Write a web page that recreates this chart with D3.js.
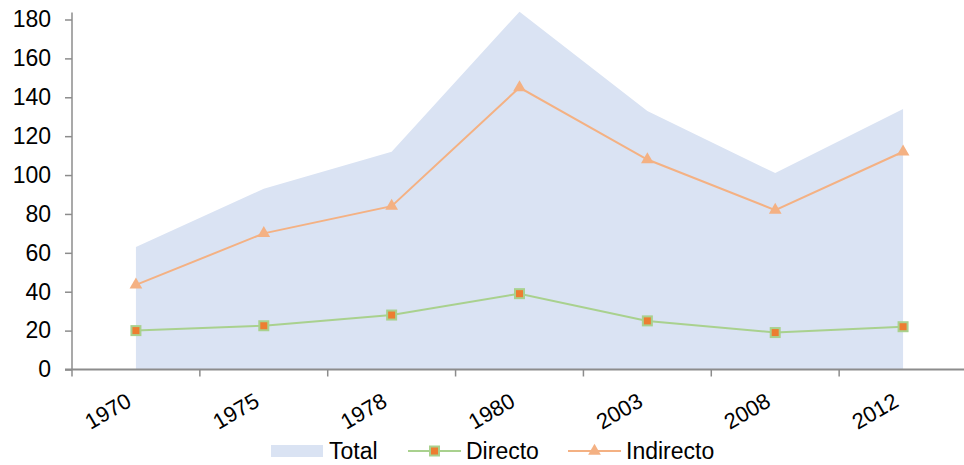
<!DOCTYPE html>
<html><head><meta charset="utf-8">
<script src="https://cdn.jsdelivr.net/npm/d3@7"></script>
<style>body{margin:0;background:#fff}svg{display:block}text{font-family:"Liberation Sans",Arial,sans-serif;fill:#000}</style>
</head><body><svg id="c" width="964" height="465"></svg>
<script>
const years = ["1970","1975","1978","1980","2003","2008","2012"];
const total = [63, 93, 112, 184, 133, 101, 134];
const directo = [20, 22.5, 28, 39, 25, 19, 22];
const indirecto = [43.5, 70, 84, 145, 108, 82, 112];
const yTicks = [0,20,40,60,80,100,120,140,160,180];

(function(){
const svg = d3.select("#c");
const mLeft = 72, mRight = 967, mTop = 19.5, mBottom = 369.5;
const x = d3.scaleBand().domain(years).range([mLeft, mRight]);
const y = d3.scaleLinear().domain([0,180]).range([mBottom, mTop]);
const cx = d => x(d) + x.bandwidth()/2;

const areaData = years.map((yr,i)=>({yr, v: total[i]}));
svg.append("path").datum(areaData)
  .attr("fill","#dae3f3")
  .attr("d", d3.area().x(d=>cx(d.yr)).y0(y(0)).y1(d=>y(d.v)));

// axes
const axisColor = "#8c8c8c";
const gy = svg.append("g").attr("transform",`translate(${mLeft},0)`)
  .call(d3.axisLeft(y).tickValues(yTicks).tickSize(7).tickPadding(14));
gy.select(".domain").attr("stroke",axisColor).attr("stroke-width",1.5).attr("d",`M-0,${mTop-7}V${mBottom}`);
gy.selectAll(".tick line").attr("stroke",axisColor).attr("stroke-width",1.5);
gy.selectAll(".tick text").attr("font-size",23).attr("font-family","Liberation Sans, Arial, sans-serif").attr("fill","#000");

const gx = svg.append("g").attr("transform",`translate(0,${mBottom})`)
  .call(d3.axisBottom(x).tickSize(0).tickFormat(""));
gx.select(".domain").attr("stroke",axisColor).attr("stroke-width",2).attr("d",`M${mLeft-7},0H${mRight}`);
const bounds = years.map(d=>x(d)).concat([mRight]);
svg.append("g").selectAll("line").data(bounds).join("line")
  .attr("x1",d=>d).attr("x2",d=>d).attr("y1",mBottom).attr("y2",mBottom+7)
  .attr("stroke",axisColor).attr("stroke-width",1.5);
svg.append("g").selectAll("text").data(years).join("text")
  .attr("transform",d=>`translate(${cx(d)-3},${mBottom+36}) rotate(-30)`)
  .attr("text-anchor","end").attr("font-size",22).text(d=>d);

// lines
const line = d3.line().x(d=>cx(d.yr)).y(d=>y(d.v));
const dirData = years.map((yr,i)=>({yr, v: directo[i]}));
const indData = years.map((yr,i)=>({yr, v: indirecto[i]}));
svg.append("path").datum(indData).attr("fill","none").attr("stroke","#f4b183").attr("stroke-width",2).attr("d",line);
svg.append("path").datum(dirData).attr("fill","none").attr("stroke","#a9d18e").attr("stroke-width",2).attr("d",line);

const tri = d3.symbol().type(d3.symbolTriangle).size(70);
svg.append("g").selectAll("path").data(indData).join("path")
  .attr("transform",d=>`translate(${cx(d.yr)},${y(d.v)})`).attr("d",tri).attr("fill","#f4b183");
svg.append("g").selectAll("rect").data(dirData).join("rect")
  .attr("x",d=>cx(d.yr)-4.5).attr("y",d=>y(d.v)-4.5).attr("width",9).attr("height",9)
  .attr("fill","#ed7d31").attr("stroke","#a9d18e").attr("stroke-width",2);

// legend
const lg = svg.append("g");
const ly = 451;
lg.append("rect").attr("x",271).attr("y",ly-6).attr("width",52).attr("height",12).attr("fill","#dae3f3");
lg.append("text").attr("x",329).attr("y",ly).attr("dy","0.36em").attr("font-size",23).text("Total");
lg.append("line").attr("x1",408).attr("x2",461).attr("y1",ly).attr("y2",ly).attr("stroke","#a9d18e").attr("stroke-width",2);
lg.append("rect").attr("x",430).attr("y",ly-4.5).attr("width",9).attr("height",9).attr("fill","#ed7d31").attr("stroke","#a9d18e").attr("stroke-width",2);
lg.append("text").attr("x",466).attr("y",ly).attr("dy","0.36em").attr("font-size",23).text("Directo");
lg.append("line").attr("x1",568).attr("x2",621).attr("y1",ly).attr("y2",ly).attr("stroke","#f4b183").attr("stroke-width",2);
lg.append("path").attr("transform",`translate(594.5,${ly})`).attr("d",tri).attr("fill","#f4b183");
lg.append("text").attr("x",626).attr("y",ly).attr("dy","0.36em").attr("font-size",23).text("Indirecto");
})();
</script></body></html>
